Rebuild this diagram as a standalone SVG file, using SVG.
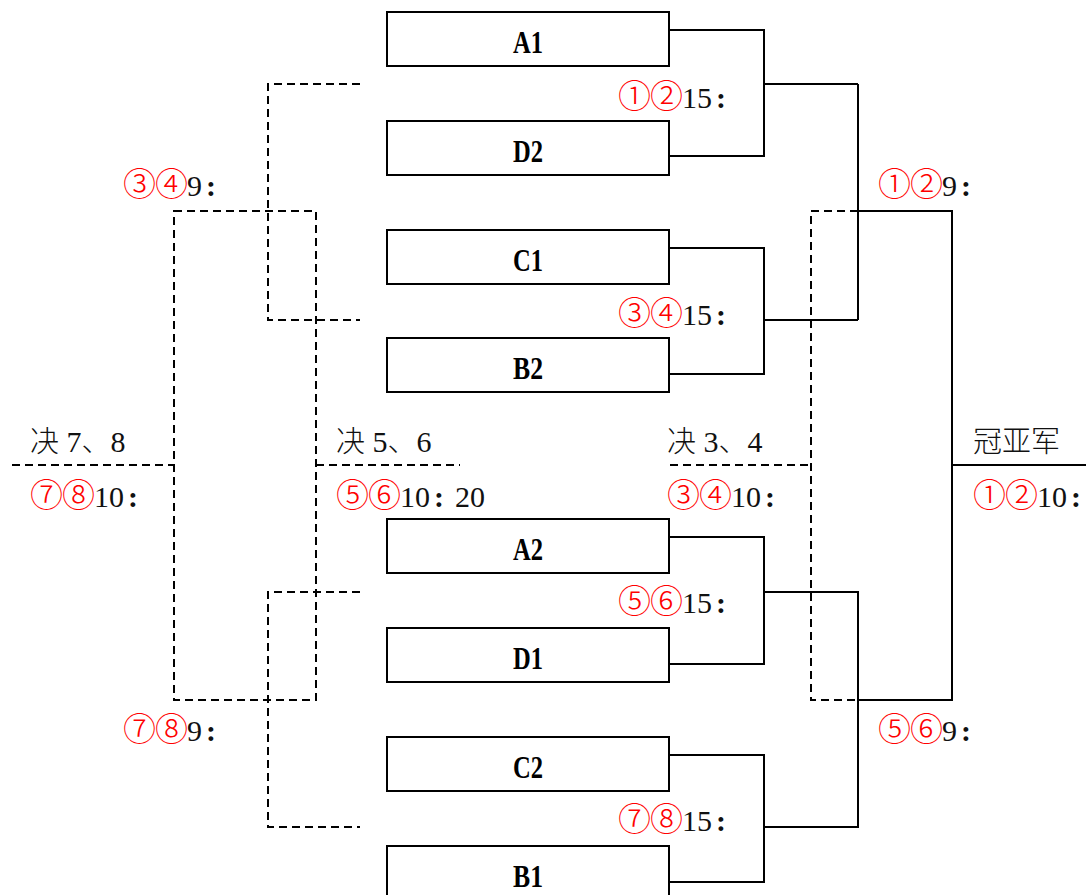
<svg xmlns="http://www.w3.org/2000/svg" width="1086" height="895" viewBox="0 0 1086 895">
<style>
.box{fill:#fff;stroke:#000;stroke-width:2}
.nt{font-family:"Liberation Serif",serif;font-weight:bold;font-size:31px;fill:#000;text-anchor:middle}
.sol{fill:none;stroke:#000;stroke-width:2}
.dash{fill:none;stroke:#000;stroke-width:2;stroke-dasharray:8,5}
.lb{font-family:"Liberation Serif","Noto Sans CJK SC",serif;font-size:30px;fill:#111}
.cn{font-family:"Noto Sans CJK SC",sans-serif;font-weight:300;font-size:29px}
.c{font-weight:bold}
.r{font-family:"Noto Sans CJK SC",sans-serif;fill:#f00;font-size:33px;font-weight:300;letter-spacing:-1px}
</style>
<rect width="1086" height="895" fill="#fff"/>
<g id="connectors">
<path class="dash" d="M360,84 H268 V320 H360"/>
<path class="dash" d="M360,592 H268 V827 H360"/>
<path class="dash" d="M174,211 H316 V700 H174 Z"/>
<path class="dash" d="M12,465 H174"/>
<path class="dash" d="M316,465 H460"/>
<path class="dash" d="M670,465 H811"/>
<path class="dash" d="M858,211 H811 V700 H858"/>
<path class="sol" d="M669,30 H764 V156 H669"/>
<path class="sol" d="M764,84 H858"/>
<path class="sol" d="M669,248 H764 V374 H669"/>
<path class="sol" d="M764,320 H858"/>
<path class="sol" d="M858,84 V320"/>
<path class="sol" d="M858,211 H952 V700 H858"/>
<path class="sol" d="M669,537 H764 V664 H669"/>
<path class="sol" d="M764,592 H858 V827 H764"/>
<path class="sol" d="M669,755 H764 V882 H669"/>
<path class="sol" d="M952,465 H1086"/>
</g>
<g id="A1"><rect class="box" x="387" y="12" width="282" height="54"/><text class="nt" x="528" y="53" textLength="30" lengthAdjust="spacingAndGlyphs">A1</text></g>
<g id="D2"><rect class="box" x="387" y="121" width="282" height="54"/><text class="nt" x="528" y="162" textLength="30" lengthAdjust="spacingAndGlyphs">D2</text></g>
<g id="C1"><rect class="box" x="387" y="230" width="282" height="54"/><text class="nt" x="528" y="271" textLength="30" lengthAdjust="spacingAndGlyphs">C1</text></g>
<g id="B2"><rect class="box" x="387" y="338" width="282" height="54"/><text class="nt" x="528" y="379" textLength="30" lengthAdjust="spacingAndGlyphs">B2</text></g>
<g id="A2"><rect class="box" x="387" y="519" width="282" height="54"/><text class="nt" x="528" y="560" textLength="30" lengthAdjust="spacingAndGlyphs">A2</text></g>
<g id="D1"><rect class="box" x="387" y="628" width="282" height="54"/><text class="nt" x="528" y="669" textLength="30" lengthAdjust="spacingAndGlyphs">D1</text></g>
<g id="C2"><rect class="box" x="387" y="737" width="282" height="54"/><text class="nt" x="528" y="778" textLength="30" lengthAdjust="spacingAndGlyphs">C2</text></g>
<g id="B1"><rect class="box" x="387" y="846" width="282" height="54"/><text class="nt" x="528" y="887" textLength="30" lengthAdjust="spacingAndGlyphs">B1</text></g>
<g id="labels">
<text class="lb" x="618" y="108"><tspan class="r">①②</tspan>15<tspan class="c" dx="4">:</tspan></text>
<text class="lb" x="618" y="325"><tspan class="r">③④</tspan>15<tspan class="c" dx="4">:</tspan></text>
<text class="lb" x="618" y="613"><tspan class="r">⑤⑥</tspan>15<tspan class="c" dx="4">:</tspan></text>
<text class="lb" x="618" y="831"><tspan class="r">⑦⑧</tspan>15<tspan class="c" dx="4">:</tspan></text>
<text class="lb" x="123" y="196"><tspan class="r">③④</tspan>9<tspan class="c" dx="4">:</tspan></text>
<text class="lb" x="123" y="741"><tspan class="r">⑦⑧</tspan>9<tspan class="c" dx="4">:</tspan></text>
<text class="lb" x="878" y="196"><tspan class="r">①②</tspan>9<tspan class="c" dx="4">:</tspan></text>
<text class="lb" x="878" y="741"><tspan class="r">⑤⑥</tspan>9<tspan class="c" dx="4">:</tspan></text>
<text class="lb" x="30" y="452"><tspan class="cn">决</tspan> 7<tspan class="cn">、</tspan>8</text>
<text class="lb" x="336" y="452"><tspan class="cn">决</tspan> 5<tspan class="cn">、</tspan>6</text>
<text class="lb" x="667" y="452"><tspan class="cn">决</tspan> 3<tspan class="cn">、</tspan>4</text>
<text class="lb cn" x="973" y="452" font-size="30">冠亚军</text>
<text class="lb" x="30" y="507"><tspan class="r">⑦⑧</tspan>10<tspan class="c" dx="4">:</tspan></text>
<text class="lb" x="336" y="507"><tspan class="r">⑤⑥</tspan>10<tspan class="c" dx="4">:</tspan><tspan dx="11">20</tspan></text>
<text class="lb" x="667" y="507"><tspan class="r">③④</tspan>10<tspan class="c" dx="4">:</tspan></text>
<text class="lb" x="973" y="507"><tspan class="r">①②</tspan>10<tspan class="c" dx="4">:</tspan></text>
</g>
</svg>
